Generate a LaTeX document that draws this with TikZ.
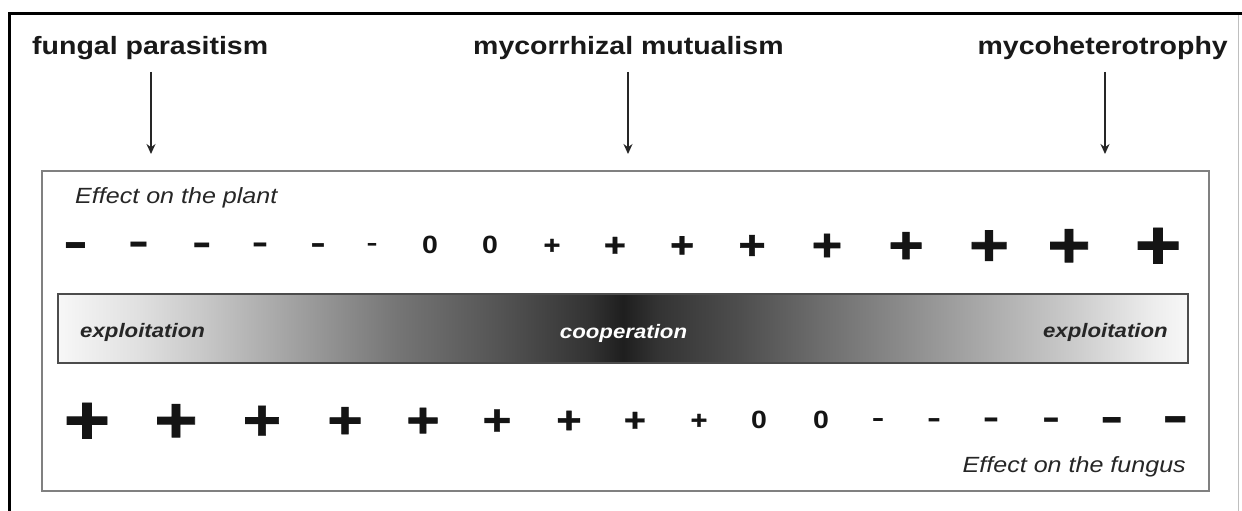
\documentclass[tikz,border=0pt]{standalone}
\usepackage{fontspec}
\setmainfont{Liberation Sans}[FakeStretch=1.14]
\newfontfamily\plusfont{Liberation Sans}[FakeStretch=1.14, FakeBold=1.2]
\newfontfamily\minusfont{Liberation Sans}[FakeStretch=1.5]
\usetikzlibrary{arrows.meta}

% white at both ends, darkest in the middle
\pgfdeclarehorizontalshading{barshade}{100bp}{%
  color(0bp)=(black!3); color(25bp)=(black!3); color(28.5bp)=(black!12);
  color(31.25bp)=(black!21); color(35.5bp)=(black!37); color(40bp)=(black!54);
  color(44.5bp)=(black!67); color(48.5bp)=(black!80); color(50bp)=(black!88);
  color(51.5bp)=(black!80); color(55bp)=(black!70); color(58.5bp)=(black!58);
  color(62.5bp)=(black!45); color(67bp)=(black!30); color(70bp)=(black!20);
  color(73.5bp)=(black!7); color(75bp)=(black!3); color(100bp)=(black!3)}

\tikzset{
  title/.style={font=\bfseries\fontsize{25}{30}\selectfont, text=black!90, inner sep=0pt},
  effect/.style={font=\itshape\fontsize{22}{26}\selectfont, text=black!85, inner sep=0pt},
  barlabel/.style={font=\bfseries\itshape\fontsize{19.5}{24}\selectfont, inner sep=0pt},
  pointer/.style={draw=black!85, line width=1.4pt, -{Stealth[length=10pt, width=9pt]}},
  sym/.style={anchor=base, inner sep=0pt, text=black!92},
}
% one sign of the scale: kind (+, -, 0) and size
\newcommand\sign[2]{%
  \if#1+\plusfont\bfseries\fontsize{#2}{#2}\selectfont+%
  \else\if#1-\minusfont\bfseries\fontsize{#2}{#2}\selectfont-%
  \else\bfseries\fontsize{#2}{#2}\selectfont0\fi\fi}

\begin{document}
\begin{tikzpicture}[x=1pt, y=-1pt]
\useasboundingbox (0,0) rectangle (1242,511);
\fill[white] (0,0) rectangle (1242,511);

% outer frame
\draw[line width=3pt] (9,511) -- (9,14) -- (1242,14);
\draw[black!25, line width=1pt] (1238,15.5) -- (1238,511);

% the three kinds of interaction
\node[title, anchor=base west] (t1) at (32,55) {fungal parasitism};
\node[title, anchor=base west] (t2) at (473,55) {mycorrhizal mutualism};
\node[title, anchor=base east] (t3) at (1228,55) {mycoheterotrophy};

\coordinate (s1) at (151,72);  \coordinate (e1) at (151,154);
\coordinate (s2) at (628,72);  \coordinate (e2) at (628,154);
\coordinate (s3) at (1105,72); \coordinate (e3) at (1105,154);
\draw[pointer] (s1) -- (e1);
\draw[pointer] (s2) -- (e2);
\draw[pointer] (s3) -- (e3);

% panel
\node[draw=black!50, line width=1.8pt, minimum width=1167pt, minimum height=320pt,
      inner sep=0pt] (panel) at (625.5,331) {};

% gradient bar
\node[draw=black!70, line width=1.5pt, shade, shading=barshade,
      minimum width=1130pt, minimum height=69pt, inner sep=0pt] (bar) at (623,328.5) {};
\node[barlabel, text=black!85, anchor=base west] (xl) at (80,337) {exploitation};
\node[barlabel, text=white, anchor=base] (co) at (623.5,338) {cooperation};
\node[barlabel, text=black!85, anchor=base east] (xr) at (1168,337) {exploitation};

\node[effect, anchor=base west] (ep) at (75,203) {Effect on the plant};
\node[effect, anchor=base east] (ef) at (1186,472) {Effect on the fungus};

% effect on the plant
\foreach \x/\s/\c/\f [count=\i] in {
  76/50/-/0.261, 139/42/-/0.261, 202/39/-/0.261, 260/33/-/0.261, 318/31/-/0.261,
  372/22/-/0.261, 430/25/0/0.354, 490/25/0/0.354, 552/25/+/0.343, 615/33/+/0.343,
  682/36/+/0.343, 752/41/+/0.343, 827/46/+/0.343, 906/53/+/0.343, 989/60/+/0.343,
  1069/65/+/0.343, 1158/70/+/0.343}
  \node[sym] (p\i) at (\x,{245+\f*\s}) {\sign{\c}{\s}};

% effect on the fungus
\foreach \x/\s/\c/\f [count=\i] in {
  87/70/+/0.343, 176/65/+/0.343, 262/58/+/0.343, 345/53/+/0.343, 423/50/+/0.343,
  497/43/+/0.343, 569/38/+/0.343, 635/33/+/0.343, 699/25/+/0.343, 759/25/0/0.354,
  821/25/0/0.354, 878/25/-/0.261, 934/28/-/0.261, 991/33/-/0.261, 1051/36/-/0.261,
  1112/47/-/0.261, 1176/53/-/0.261}
  \node[sym] (f\i) at (\x,{420+\f*\s}) {\sign{\c}{\s}};
\end{tikzpicture}
\end{document}
